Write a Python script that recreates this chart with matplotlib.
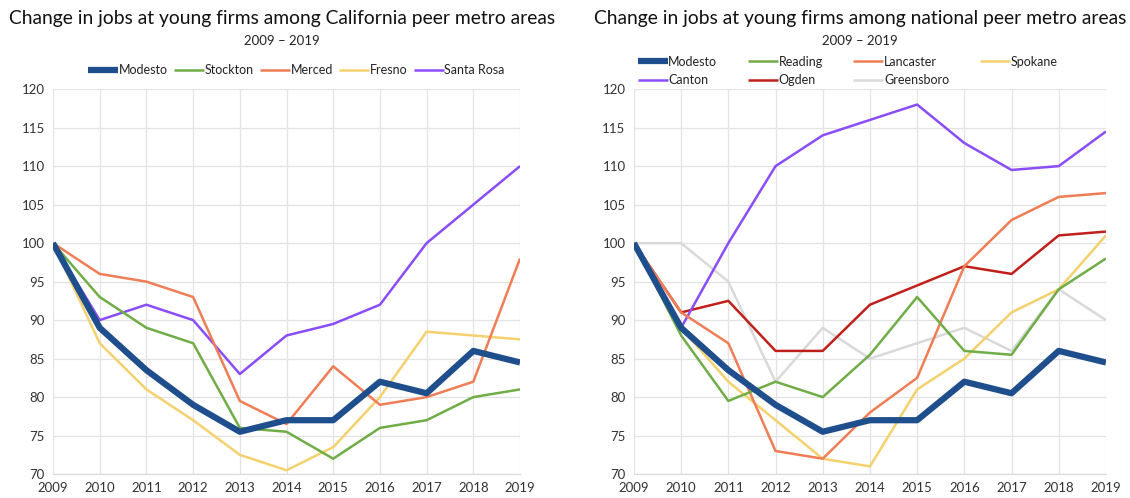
import matplotlib
matplotlib.use("Agg")
import matplotlib.pyplot as plt
import numpy as np

plt.rcParams['font.family'] = ['Lato', 'DejaVu Sans']

years = [2009, 2010, 2011, 2012, 2013, 2014, 2015, 2016, 2017, 2018, 2019]

# California peers
modesto = [100, 89, 83.5, 79, 75.5, 77, 77, 82, 80.5, 86, 84.5]
stockton = [100, 93, 89, 87, 76, 75.5, 72, 76, 77, 80, 81]
merced = [100, 96, 95, 93, 79.5, 76.5, 84, 79, 80, 82, 98]
fresno = [100, 87, 81, 77, 72.5, 70.5, 73.5, 80, 88.5, 88, 87.5]
santa_rosa = [100, 90, 92, 90, 83, 88, 89.5, 92, 100, 105, 110]

# national peers
reading = [100, 88, 79.5, 82, 80, 85.5, 93, 86, 85.5, 94, 98]
lancaster = [100, 91, 87, 73, 72, 78, 82.5, 97, 103, 106, 106.5]
spokane = [100, 89, 82, 77, 72, 71, 81, 85, 91, 94, 101]
canton = [100, 89, 100, 110, 114, 116, 118, 113, 109.5, 110, 114.5]
ogden = [100, 91, 92.5, 86, 86, 92, 94.5, 97, 96, 101, 101.5]
greensboro = [100, 100, 95, 82, 89, 85, 87, 89, 86, 94, 90]

blue = '#1f4e8c'
green = '#70ad47'
orange = '#ef7d55'
yellow = '#f5d16e'
purple = '#8a4dfa'
red = '#c0201c'
grey = '#d9d9d9'

left_series = [
    ("Modesto", modesto, blue, 4.5),
    ("Stockton", stockton, green, 1.8),
    ("Merced", merced, orange, 1.8),
    ("Fresno", fresno, yellow, 1.8),
    ("Santa Rosa", santa_rosa, purple, 1.8),
]
right_series = [
    ("Modesto", modesto, blue, 4.5),
    ("Reading", reading, green, 1.8),
    ("Lancaster", lancaster, orange, 1.8),
    ("Spokane", spokane, yellow, 1.8),
    ("Canton", canton, purple, 1.8),
    ("Ogden", ogden, red, 1.8),
    ("Greensboro", greensboro, grey, 1.8),
]

fig = plt.figure(figsize=(11.3, 4.98), dpi=100)
ax1 = fig.add_axes([0.0469, 0.048, 0.4133, 0.773])
ax2 = fig.add_axes([0.561, 0.048, 0.4177, 0.773])


def style_axis(ax):
    ax.set_xlim(2009, 2019)
    ax.set_ylim(70, 120)
    ax.set_xticks(years)
    ax.set_yticks(np.arange(70, 121, 5))
    ax.grid(True, color='#e3e3e3', linewidth=0.9)
    ax.set_axisbelow(True)
    for s in ax.spines.values():
        s.set_visible(False)
    ax.spines['bottom'].set_visible(True)
    ax.spines['bottom'].set_color('#d9d9d9')
    ax.tick_params(length=0, labelsize=9.5, colors='#333333', pad=6)


lines1 = {}
for name, vals, c, lw in left_series[::-1]:
    lines1[name], = ax1.plot(years, vals, color=c, linewidth=lw, label=name, solid_capstyle='butt')
lines2 = {}
for name, vals, c, lw in right_series[::-1]:
    lines2[name], = ax2.plot(years, vals, color=c, linewidth=lw, label=name, solid_capstyle='butt')

style_axis(ax1)
style_axis(ax2)

names1 = [s[0] for s in left_series]
ax1.legend([lines1[n] for n in names1], names1, loc='center left',
           bbox_to_anchor=(0.075, 1.049), ncol=5, frameon=False, fontsize=9,
           handlelength=2.4, handletextpad=0.05, columnspacing=0.5,
           borderpad=0, borderaxespad=0, labelcolor='#222222')

# column-major order so the legend reads row by row
names2 = ["Modesto", "Canton", "Reading", "Ogden", "Lancaster", "Greensboro", "Spokane"]
ax2.legend([lines2[n] for n in names2], names2, loc='center left',
           bbox_to_anchor=(0.008, 1.047), ncol=4, frameon=False, fontsize=9,
           handlelength=2.4, handletextpad=0.05, columnspacing=2.45,
           labelspacing=0.55, borderpad=0, borderaxespad=0, labelcolor='#222222')

fig.text(0.2495, 0.962, "Change in jobs at young firms among California peer metro areas",
         ha='center', va='center', fontsize=13.9, color='#111111')
fig.text(0.2495, 0.918, "2009 \u2013 2019", ha='center', va='center', fontsize=9.5, color='#222222')
fig.text(0.761, 0.962, "Change in jobs at young firms among national peer metro areas",
         ha='center', va='center', fontsize=13.9, color='#111111')
fig.text(0.761, 0.918, "2009 \u2013 2019", ha='center', va='center', fontsize=9.5, color='#222222')

plt.savefig("out.png", dpi=100, facecolor='white')
